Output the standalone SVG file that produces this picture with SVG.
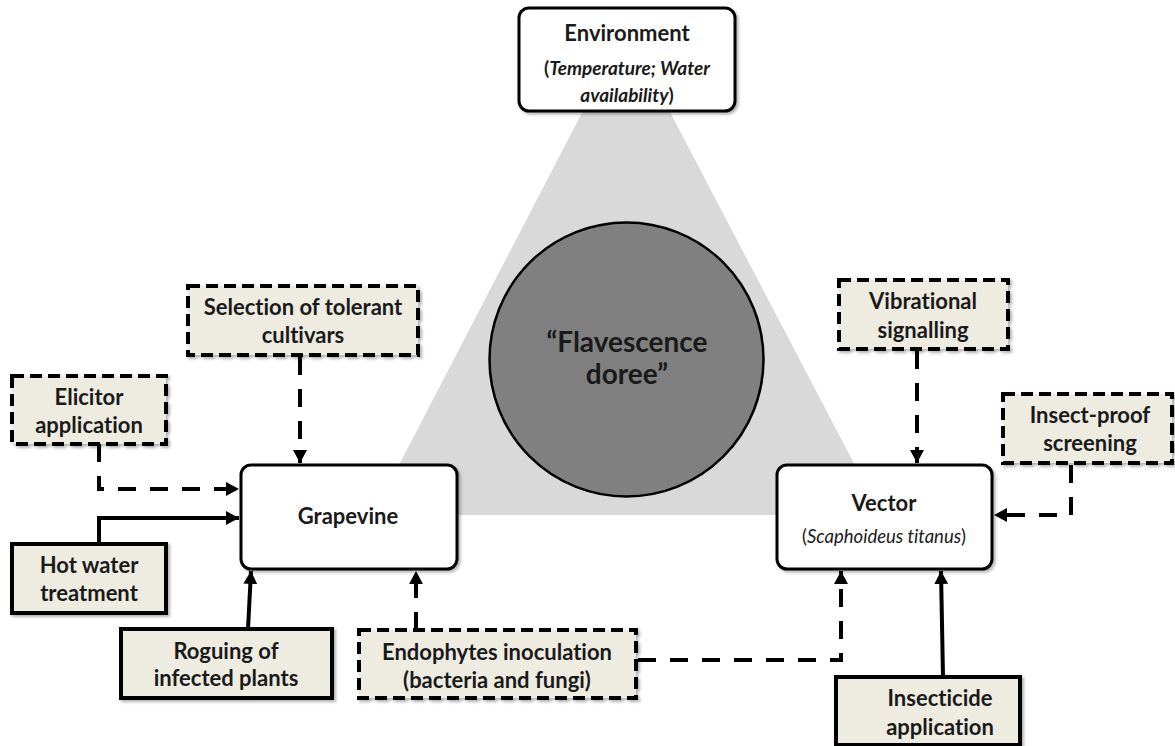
<svg xmlns="http://www.w3.org/2000/svg" width="1175" height="746" viewBox="0 0 1175 746">
<defs>
<style>
.t{font-family:Lato,"Liberation Sans",sans-serif;font-weight:bold;font-size:22px;fill:#1a1a1a;text-anchor:middle;font-variant-ligatures:none}
.main{fill:#fff;stroke:#000;stroke-width:3}
.sol{fill:#eeece1;stroke:#000;stroke-width:4}
.dsh{fill:#eeece1;stroke:#000;stroke-width:4;stroke-dasharray:12 6}
.c{fill:none;stroke:#000;stroke-width:4}
.cd{fill:none;stroke:#000;stroke-width:4;stroke-dasharray:18 14}
</style>
<marker id="ah" markerUnits="userSpaceOnUse" markerWidth="14" markerHeight="14" refX="13" refY="7" orient="auto">
<path d="M0,0 L13,7 L0,14 z" fill="#000"/>
</marker>
<filter id="sh" x="-10%" y="-10%" width="130%" height="140%">
<feDropShadow dx="2" dy="2" stdDeviation="1.5" flood-color="#000" flood-opacity="0.3"/>
</filter>
</defs>
<rect width="1175" height="746" fill="#fff"/>
<polygon id="triangle" points="626,28 373,515 881,515" fill="#d9d9d9"/>
<g id="disease">
<circle cx="626.5" cy="359.5" r="137" fill="#808080" stroke="#000" stroke-width="2.5"/>
<text class="t" x="627" y="352" style="font-size:28px">“Flavescence</text>
<text class="t" x="627" y="384" style="font-size:28px">doree”</text>
</g>
<g id="environment">
<rect class="main" x="519" y="8" width="216" height="103" rx="10" filter="url(#sh)"/>
<text class="t" x="627" y="41">Environment</text>
<text class="t" x="627" y="75" style="font-size:19px">(<tspan font-style="italic">Temperature; Water</tspan></text>
<text class="t" x="627" y="102" style="font-size:19px"><tspan font-style="italic">availability</tspan>)</text>
</g>
<g id="grapevine">
<rect class="main" x="241" y="465" width="216" height="104" rx="10" filter="url(#sh)"/>
<text class="t" x="348" y="524">Grapevine</text>
</g>
<g id="vector">
<rect class="main" x="777" y="465" width="215" height="104" rx="10" filter="url(#sh)"/>
<text class="t" x="884" y="511">Vector</text>
<text class="t" x="884" y="543" style="font-size:18.5px;font-weight:normal">(<tspan font-style="italic">Scaphoideus titanus</tspan>)</text>
</g>
<g id="selection">
<rect class="dsh" x="188" y="286" width="230" height="69" filter="url(#sh)"/>
<text class="t" x="303" y="315">Selection of tolerant</text>
<text class="t" x="303" y="343">cultivars</text>
</g>
<g id="elicitor">
<rect class="dsh" x="12" y="376" width="154" height="68" filter="url(#sh)"/>
<text class="t" x="89" y="405">Elicitor</text>
<text class="t" x="89" y="433">application</text>
</g>
<g id="hotwater">
<rect class="sol" x="12" y="544" width="154" height="69" filter="url(#sh)"/>
<text class="t" x="89" y="573">Hot water</text>
<text class="t" x="89" y="601">treatment</text>
</g>
<g id="roguing">
<rect class="sol" x="121" y="629" width="211" height="69" filter="url(#sh)"/>
<text class="t" x="226" y="659">Roguing of</text>
<text class="t" x="226" y="686">infected plants</text>
</g>
<g id="endophytes">
<rect class="dsh" x="359" y="630" width="277" height="68" filter="url(#sh)"/>
<text class="t" x="497" y="660">Endophytes inoculation</text>
<text class="t" x="497" y="688">(bacteria and fungi)</text>
</g>
<g id="vibrational">
<rect class="dsh" x="839" y="280" width="169" height="69" filter="url(#sh)"/>
<text class="t" x="923" y="309">Vibrational</text>
<text class="t" x="923" y="338">signalling</text>
</g>
<g id="insectproof">
<rect class="dsh" x="1003" y="394" width="169" height="69" filter="url(#sh)"/>
<text class="t" x="1090" y="423">Insect-proof</text>
<text class="t" x="1090" y="451">screening</text>
</g>
<g id="insecticide">
<rect class="sol" x="836" y="677" width="184" height="68" filter="url(#sh)"/>
<text class="t" x="940" y="706">Insecticide</text>
<text class="t" x="940" y="735">application</text>
</g>
<g id="connectors">
<path class="cd" d="M300,357 V463" marker-end="url(#ah)"/>
<path class="cd" d="M99,444 V489 H239" marker-end="url(#ah)"/>
<path class="c" d="M99,544 V518 H239" marker-end="url(#ah)"/>
<path class="c" d="M248,629 L251,571" marker-end="url(#ah)"/>
<path class="cd" d="M416,630 V571" marker-end="url(#ah)"/>
<path class="cd" d="M638,660 H841 V571" marker-end="url(#ah)"/>
<path class="c" d="M943,677 L941,571" marker-end="url(#ah)"/>
<path class="cd" d="M917,351 V463" marker-end="url(#ah)"/>
<path class="cd" d="M1071,465 V515 H994" marker-end="url(#ah)"/>
</g>
</svg>
